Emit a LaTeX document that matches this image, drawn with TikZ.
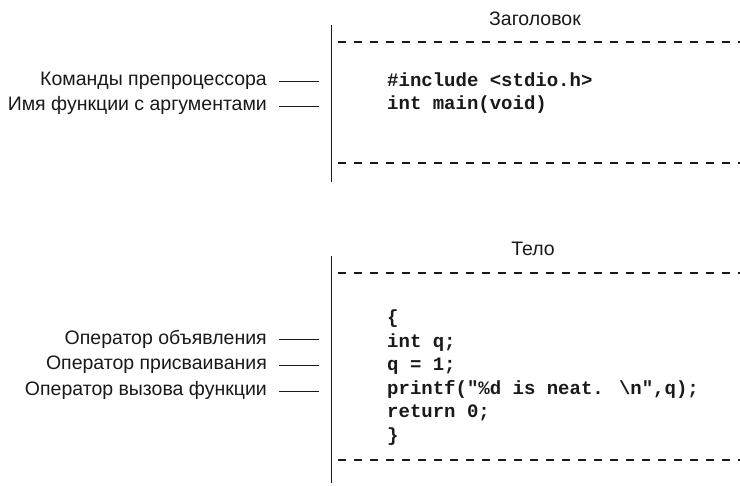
\documentclass[tikz,border=0pt]{standalone}
\usepackage{fontspec}
\setmainfont{Liberation Sans}
\newfontfamily\codefont{Liberation Mono}
\usepackage{xcolor}
\definecolor{ink-900}{RGB}{25,25,25}
\usetikzlibrary{positioning}

\tikzset{
    label/.style={font=\fontsize{19.5}{22}\selectfont, text=ink-900, anchor=base east},
    heading/.style={font=\fontsize{19.5}{22}\selectfont, text=ink-900, anchor=base},
    code/.style={font=\fontsize{19}{23}\selectfont\codefont\bfseries, text=ink-900, anchor=base west},
    rail/.style={draw=ink-900, line width=1pt},
    cut/.style={draw=ink-900, line width=1.4pt, dash pattern=on 7.5pt off 8.5pt},
    lead/.style={draw=ink-900, line width=0.8pt}
}

\begin{document}
\begin{tikzpicture}[
    x=1pt, y=-1pt,
    every node/.style={inner sep=0pt}
]

\useasboundingbox (0,0) rectangle (740,486);

% Header block
\node[heading] (head) at (535,26) {Заголовок};
\draw[rail] (331,25) -- (331,182);
\draw[cut] (338,42) -- (740,42);
\draw[cut] (338,163) -- (740,163);

\node[code] (inc) at (387,87) {\#include <stdio.h>};
\node[code] (mainfn) at (387,110) {int main(void)};

% Body block
\node[heading] (body) at (533,256) {Тело};
\draw[rail] (331,256) -- (331,483);
\draw[cut] (338,273) -- (740,273);
\draw[cut] (338,460) -- (740,460);

\node[code] (lbrace) at (387,324) {\{};
\node[code] (decl) at (387,347.5) {int q;};
\node[code] (assign) at (387,371) {q = 1;};
\node[code] (call) at (387,394.5) {printf("\%d is neat. \textbackslash n",q);};
\node[code] (ret) at (387,418) {return 0;};
\node[code] (rbrace) at (387,441.5) {\}};

% Labels on the left
\coordinate (leadend) at (319,0);
\node[label] (pp) at (267,86) {Команды препроцессора};
\node[label] (fn) at (267,111) {Имя функции с аргументами};
\node[label] (opdecl) at (267,345) {Оператор объявления};
\node[label] (opassign) at (267,370) {Оператор присваивания};
\node[label] (opcall) at (267,396) {Оператор вызова функции};

\draw[lead] ([xshift=12pt]pp.east) -- (pp.east -| leadend);
\draw[lead] ([xshift=12pt]fn.east) -- (fn.east -| leadend);
\draw[lead] ([xshift=12pt]opdecl.east) -- (opdecl.east -| leadend);
\draw[lead] ([xshift=12pt]opassign.east) -- (opassign.east -| leadend);
\draw[lead] ([xshift=12pt]opcall.east) -- (opcall.east -| leadend);

\end{tikzpicture}
\end{document}
